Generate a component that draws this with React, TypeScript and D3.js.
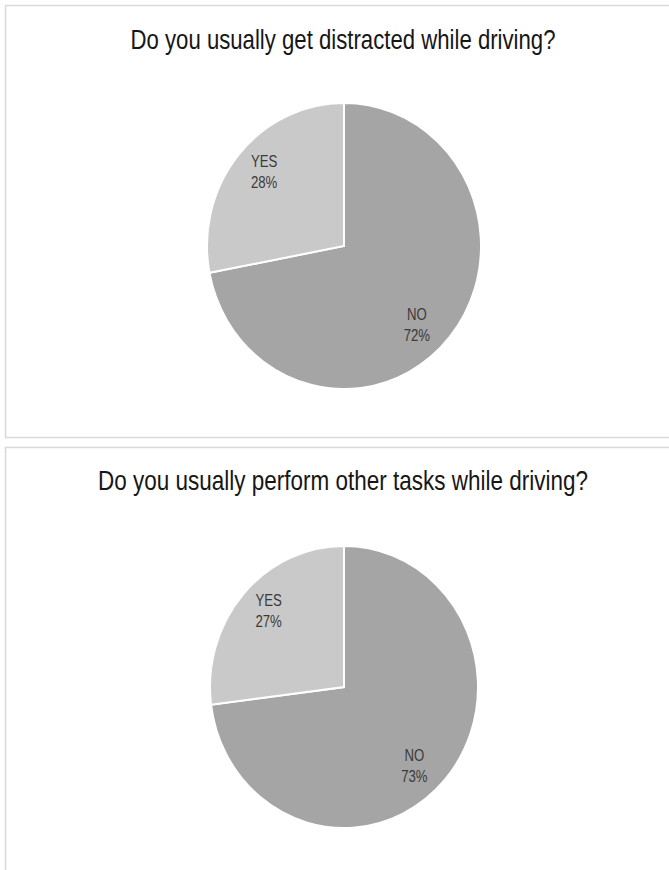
import React, { useEffect } from "react";
import * as d3 from "d3";

const categories = ["NO", "YES"];
const distractedValues = [72, 28];
const tasksValues = [73, 27];
const titles = [
  "Do you usually get distracted while driving?",
  "Do you usually perform other tasks while driving?",
];
const colors = ["#a5a5a5", "#c9c9c9"];

const W = 669;
const H = 870;
const FONT = "'Liberation Sans', Arial, sans-serif";

type Datum = { c: string; v: number };

type PanelProps = {
  y0: number;
  h: number;
  title: string;
  titleWidth: number;
  values: number[];
  cy: number;
  rx: number;
  ry: number;
  labelOffsets: [number, number][];
  titleY: number;
};

function PiePanel({ y0, h, title, titleWidth, values, cy, rx, ry, labelOffsets, titleY }: PanelProps) {
  const data: Datum[] = categories.map((c, i) => ({ c, v: values[i] }));
  const pie = d3.pie<Datum>().value((d) => d.v).sort(null);
  const arcs = pie(data);
  const arc = d3.arc<d3.PieArcDatum<Datum>>().innerRadius(0).outerRadius(rx);
  const labelArc = d3.arc<d3.PieArcDatum<Datum>>().innerRadius(rx * 0.7).outerRadius(rx * 0.7);
  const cx = 344;
  const sy = ry / rx;
  return (
    <g>
      <rect x={5.5} y={y0 + 0.5} width={W + 10} height={h} fill="#fff" stroke="#d9d9d9" strokeWidth={1.5} />
      <text
        x={343}
        y={titleY}
        textAnchor="middle"
        fontFamily={FONT}
        fontSize={27.5}
        fill="#161616"
        textLength={titleWidth}
        lengthAdjust="spacingAndGlyphs"
      >
        {title}
      </text>
      <g transform={`translate(${cx},${cy}) scale(1,${sy})`}>
        {arcs.map((a, i) => (
          <path key={i} d={arc(a) || ""} fill={colors[i]} stroke="#fff" strokeWidth={2} vectorEffect="non-scaling-stroke" />
        ))}
      </g>
      {arcs.map((a, i) => {
        const [lx, ly] = labelArc.centroid(a);
        const x = cx + lx + labelOffsets[i][0];
        const y = cy + ly * sy + labelOffsets[i][1];
        return (
          <g key={i} transform={`translate(${x},${y}) scale(0.8,1)`}>
            <text textAnchor="middle" fontFamily={FONT} fontSize={16.5} fill="#3a3a3a">
              <tspan x={0} y={0}>{a.data.c}</tspan>
              <tspan x={0} y={21}>{`${a.data.v}%`}</tspan>
            </text>
          </g>
        );
      })}
    </g>
  );
}

export default function App() {
  useEffect(() => {
    document.body.style.margin = "0";
  }, []);
  return (
    <svg width={W} height={H} style={{ display: "block" }}>
      <rect width={W} height={H} fill="#fff" />
      <PiePanel
        y0={5}
        h={432}
        title={titles[0]}
        titleWidth={425}
        values={distractedValues}
        cy={246}
        rx={137}
        ry={143}
        labelOffsets={[[-1, 10], [-6, -15]]}
        titleY={48.5}
      />
      <PiePanel
        y0={447}
        h={440}
        title={titles[1]}
        titleWidth={490}
        values={tasksValues}
        cy={687}
        rx={134}
        ry={141}
        labelOffsets={[[0, 9], [-5, -16]]}
        titleY={490}
      />
    </svg>
  );
}
